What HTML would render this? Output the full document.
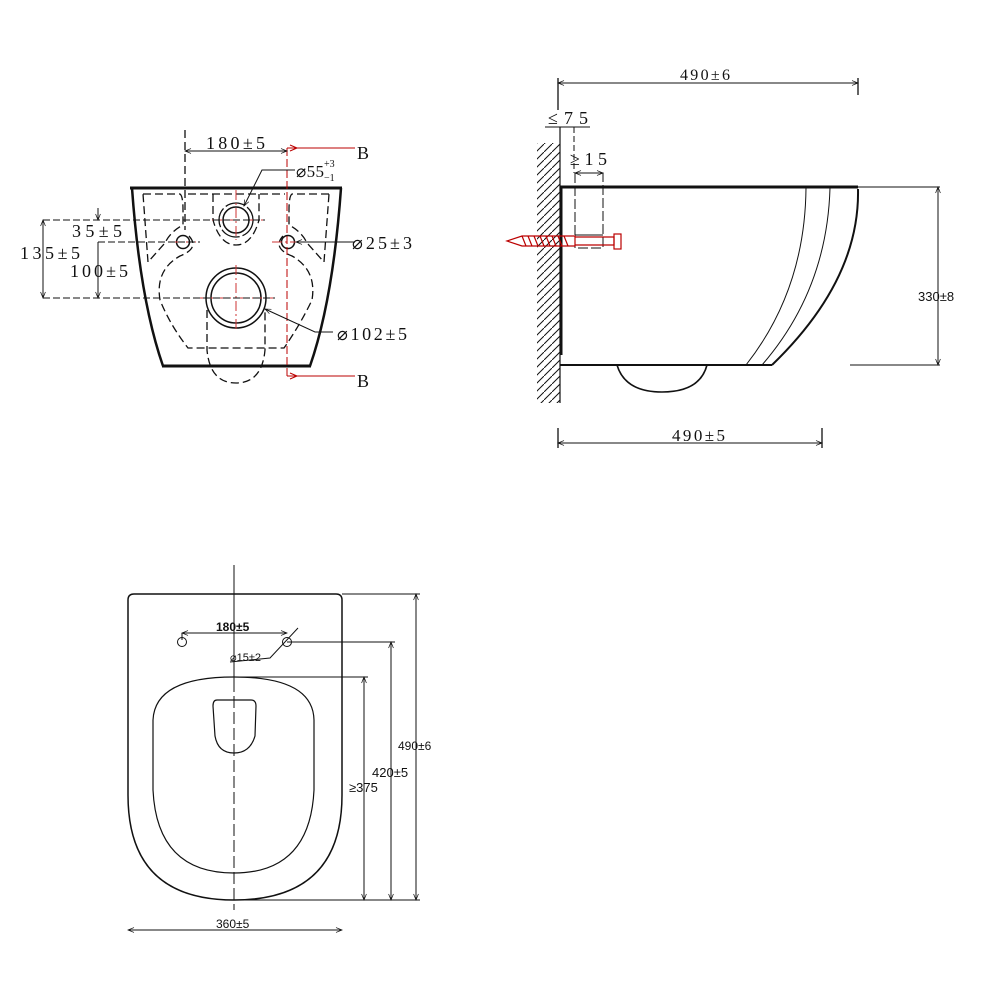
<!DOCTYPE html>
<html><head><meta charset="utf-8"><style>
html,body{margin:0;padding:0;background:#fff;}
svg{display:block;}
text{font-family:"Liberation Serif","Noto Serif CJK SC",serif;fill:#111;}
.s{font-family:"Liberation Sans",sans-serif;}
</style></head><body>
<svg width="1000" height="1000" viewBox="0 0 1000 1000" xmlns="http://www.w3.org/2000/svg">
<defs>
<marker id="a" viewBox="0 0 10 10" refX="10" refY="5" markerWidth="8" markerHeight="6" orient="auto-start-reverse"><path d="M0,1 L10,5 L0,9" fill="none" stroke="#111" stroke-width="1.2"/></marker>
<pattern id="h" width="8" height="8" patternUnits="userSpaceOnUse"><path d="M0,8 L8,0" stroke="#111" stroke-width="1"/></pattern>
</defs>

<!-- ===== FRONT VIEW ===== -->
<g fill="none" stroke="#111">
<path d="M130,188 L342,188" stroke-width="3"/>
<path d="M132,188 Q140,300 163,366" stroke-width="2.5"/>
<path d="M341,188 Q333,300 310,366" stroke-width="2.5"/>
<path d="M162,366 L311,366" stroke-width="3"/>
<g stroke-dasharray="8,4" stroke-width="1.3">
<path d="M143,194 L180,194 Q183,196 183,210 L183,225 Q170,232 165,243 L148,262 Z"/>
<path d="M329,194 L292,194 Q289,196 289,210 L289,225 Q302,232 307,243 L324,262 Z"/>
<path d="M188,194 L285,194"/>
<path d="M213,194 L213,220 Q220,245 236,245 Q252,245 259,220 L259,194"/>
<path d="M189,236 Q200,248 180,256 Q155,270 160,300 Q170,325 188,348 L284,348 Q300,325 312,300 Q317,270 292,256 Q272,248 283,236"/>
<path d="M207,310 L207,350 Q210,383 236,383 Q262,383 265,350 L265,310"/>
<path d="M185,130 L185,230"/>
</g>
<circle cx="236" cy="220" r="13" stroke-width="1.5"/>
<circle cx="236" cy="220" r="17" stroke-width="1.3" stroke-dasharray="20,3"/>
<circle cx="183" cy="242" r="6.5" stroke-width="1.5"/>
<circle cx="288" cy="242" r="6.5" stroke-width="1.5"/>
<circle cx="236" cy="298" r="25" stroke-width="1.5"/>
<circle cx="236" cy="298" r="30" stroke-width="1.5"/>
</g>
<g stroke="#c33" stroke-width="1" stroke-dasharray="10,3,2,3" fill="none">
<path d="M236,190 L236,240 M212,220 L266,220"/>
<path d="M168,242 L200,242 M272,242 L305,242"/>
<path d="M236,265 L236,330 M198,298 L274,298"/>
</g>
<g stroke="#b00" stroke-width="1" fill="none">
<path d="M287,148 L287,376" stroke-dasharray="8,3"/>
<path d="M287,148 L355,148 M287,376 L355,376"/>
<path d="M297,148 L290,145 M297,148 L290,151 M297,376 L290,373 M297,376 L290,379" />
</g>
<g stroke="#111" stroke-width="1" fill="none">
<path d="M185,151 L287,151" marker-start="url(#a)" marker-end="url(#a)"/>
<path d="M43,220 L265,220 M98,242 L200,242 M43,298 L275,298" stroke-dasharray="7,3"/>
<path d="M43,220 L43,298" marker-start="url(#a)" marker-end="url(#a)"/>
<path d="M98,242 L98,298" marker-end="url(#a)"/>
<path d="M98,208 L98,220" marker-end="url(#a)"/>
<path d="M295,170 L262,170 L244,206" marker-end="url(#a)"/>
<path d="M355,242 L296,242" marker-end="url(#a)"/>
<path d="M333,332 L315,332 L265,309" marker-end="url(#a)"/>
</g>
<text x="206" y="149" font-size="18" textLength="59">180±5</text>
<text x="296" y="177" font-size="17" textLength="28">⌀55</text>
<text x="324" y="167" font-size="10">+3</text>
<text x="324" y="181" font-size="10">−1</text>
<text x="357" y="159" font-size="18">B</text>
<text x="357" y="387" font-size="18">B</text>
<text x="72" y="237" font-size="18" textLength="50">35±5</text>
<text x="20" y="259" font-size="18" textLength="60">135±5</text>
<text x="70" y="277" font-size="18" textLength="58">100±5</text>
<text x="352" y="249" font-size="18" textLength="60">⌀25±3</text>
<text x="337" y="340" font-size="18" textLength="70">⌀102±5</text>

<!-- ===== SIDE VIEW ===== -->
<rect x="537" y="143" width="23" height="260" fill="url(#h)"/>
<g fill="none" stroke="#111">
<path d="M560,127 L560,403" stroke-width="1.2"/>
<path d="M561,187 L561,355" stroke-width="3"/>
<path d="M560,187 L858,187" stroke-width="3"/>
<path d="M560,365 L772,365" stroke-width="2"/>
<path d="M858,189 Q860,280 772,365" stroke-width="2"/>
<path d="M806,188 Q805,290 746,365" stroke-width="1"/>
<path d="M830,188 Q827,290 762,365" stroke-width="1"/>
<path d="M617,365 Q625,392 662,392 Q700,392 707,365" stroke-width="1.6"/>
<path d="M575,173 L575,248 L603,248 L603,173 L575,173" stroke-width="1" stroke-dasharray="10,3"/>
<path d="M575,235 L603,235" stroke-width="1"/>
<path d="M558,83 L858,83" stroke-width="1" marker-start="url(#a)" marker-end="url(#a)"/>
<path d="M558,78 L558,110 M858,78 L858,95" stroke-width="1.3"/>
<path d="M545,127 L590,127" stroke-width="1"/>
<path d="M574,127 L574,173" stroke-width="1" stroke-dasharray="6,3"/>
<path d="M575,173 L603,173" stroke-width="1" marker-start="url(#a)" marker-end="url(#a)"/>
<path d="M858,187 L940,187 M850,365 L940,365" stroke-width="1"/>
<path d="M938,187 L938,365" stroke-width="1" marker-start="url(#a)" marker-end="url(#a)"/>
<path d="M558,443 L822,443" stroke-width="1" marker-start="url(#a)" marker-end="url(#a)"/>
<path d="M558,428 L558,448 M822,428 L822,448" stroke-width="1.3"/>
</g>
<g stroke="#b00" fill="none" stroke-width="1.2">
<path d="M507,241 L522,236 L575,236 L575,246 L522,246 Z"/>
<path d="M522,236 L526,246 M528,236 L532,246 M534,236 L538,246 M540,236 L544,246 M546,236 L550,246 M552,236 L556,246 M558,236 L562,246 M564,236 L568,246"/>
<path d="M575,237 L614,237 L614,245 L575,245"/>
<rect x="614" y="234" width="7" height="15"/>
</g>
<text x="680" y="80" font-size="16" textLength="50">490±6</text>
<text x="548" y="124" font-size="18" textLength="40">≤75</text>
<text x="570" y="165" font-size="18" textLength="37">≥15</text>
<text x="918" y="301" font-size="13" class="s">330±8</text>
<text x="672" y="441" font-size="17" textLength="53">490±5</text>

<!-- ===== TOP VIEW ===== -->
<g fill="none" stroke="#111">
<path d="M128,795 L128,600 Q128,594 134,594 L336,594 Q342,594 342,600 L342,795 Q342,900 234,900 Q128,900 128,795 Z" stroke-width="1.5"/>
<path d="M153,720 Q155,677 234,677 Q313,677 314,720 L314,790 Q310,873 234,873 Q157,873 153,790 Z" stroke-width="1.2"/>
<path d="M217,700 L251,700 Q256,700 256,706 L255,736 Q250,753 234,753 Q218,753 215,736 L213,706 Q213,700 217,700 Z" stroke-width="1.2"/>
<path d="M234,565 L234,680" stroke-width="1"/>
<path d="M234,680 L234,910" stroke-width="1" stroke-dasharray="12,4"/>
<circle cx="182" cy="642" r="4.5" stroke-width="1"/>
<circle cx="287" cy="642" r="4.5" stroke-width="1"/>
<path d="M182,633 L287,633" stroke-width="1" marker-start="url(#a)" marker-end="url(#a)"/>
<path d="M182,633 L182,640" stroke-width="1"/>
<path d="M298,628 L270,658 L230,662" stroke-width="1"/>
<path d="M342,594 L420,594 M287,642 L395,642 M234,677 L368,677 M234,900 L420,900" stroke-width="1"/>
<path d="M416,594 L416,900" stroke-width="1" marker-start="url(#a)" marker-end="url(#a)"/>
<path d="M391,642 L391,900" stroke-width="1" marker-start="url(#a)" marker-end="url(#a)"/>
<path d="M364,677 L364,900" stroke-width="1" marker-start="url(#a)" marker-end="url(#a)"/>
<path d="M128,930 L342,930" stroke-width="1" marker-start="url(#a)" marker-end="url(#a)"/>
</g>
<text x="216" y="631" font-size="12" class="s" font-weight="bold">180±5</text>
<text x="230" y="661" font-size="11" class="s">⌀15±2</text>
<text x="398" y="750" font-size="12" class="s">490±6</text>
<text x="372" y="777" font-size="13" class="s">420±5</text>
<text x="349" y="792" font-size="13" class="s">≥375</text>
<text x="216" y="928" font-size="12" class="s">360±5</text>
</svg>
</body></html>
